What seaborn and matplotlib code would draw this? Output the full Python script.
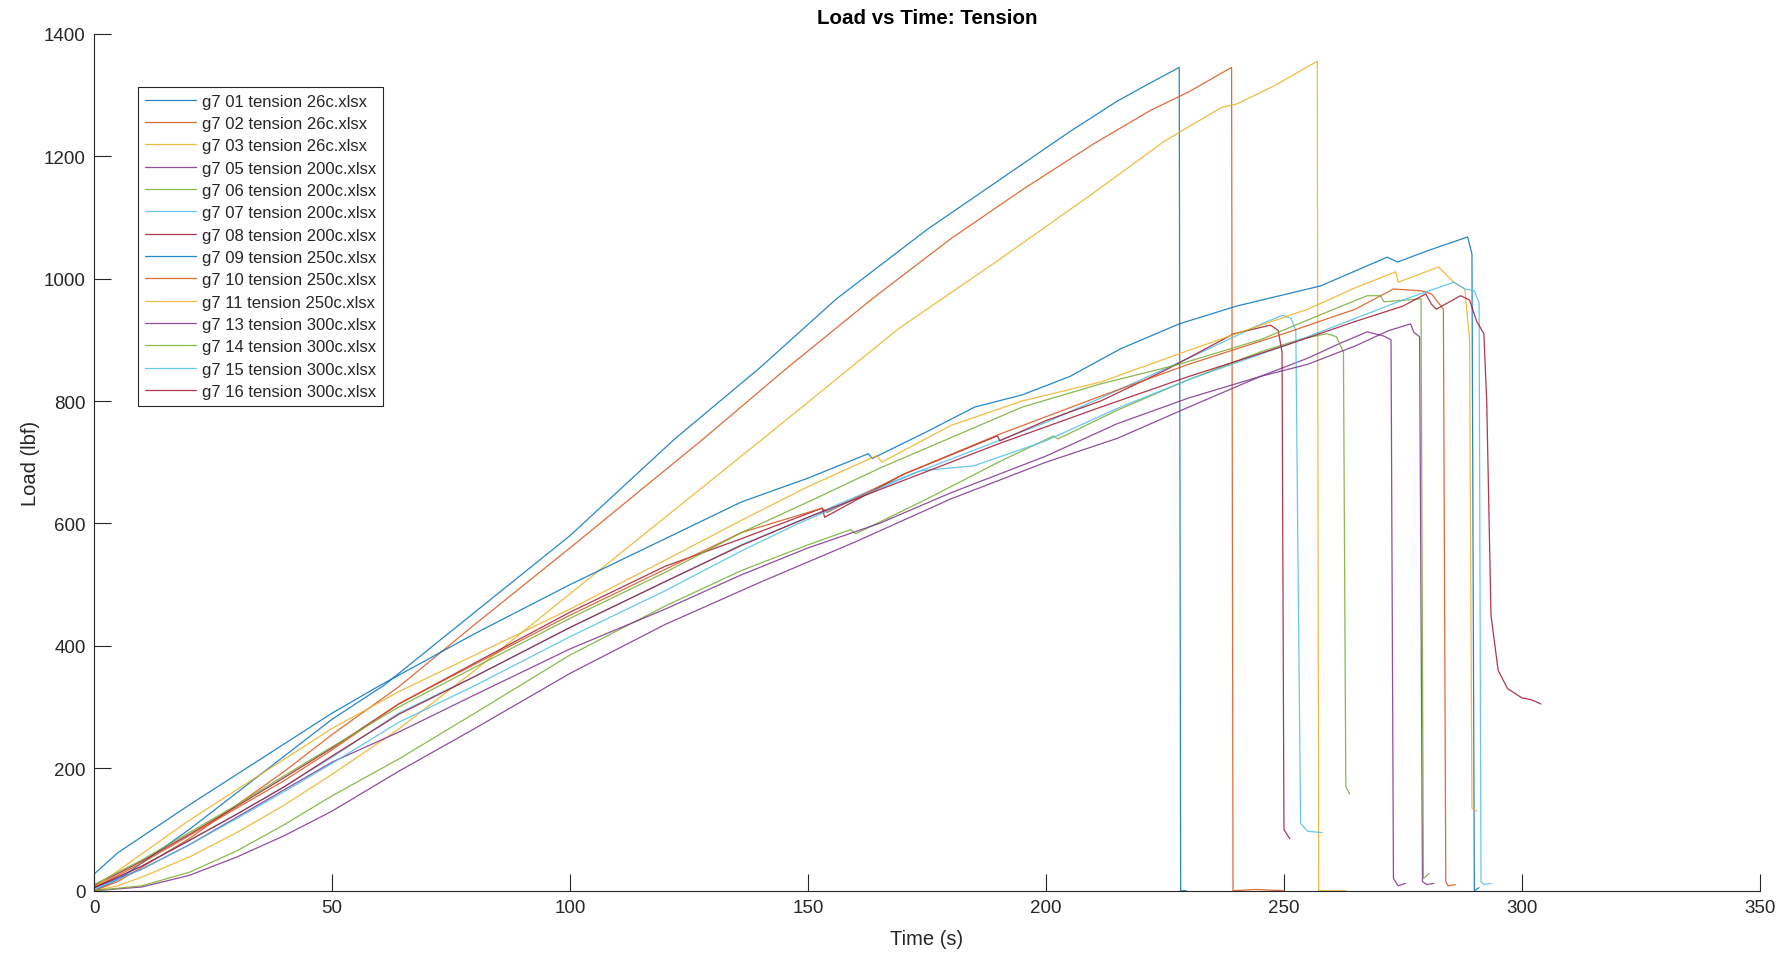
import matplotlib
matplotlib.use("Agg")
import matplotlib.pyplot as plt
import seaborn as sns

# --- data (time in s, load in lbf) ---
labels = ["g7 01 tension 26c.xlsx", "g7 02 tension 26c.xlsx", "g7 03 tension 26c.xlsx",
          "g7 05 tension 200c.xlsx", "g7 06 tension 200c.xlsx", "g7 07 tension 200c.xlsx",
          "g7 08 tension 200c.xlsx", "g7 09 tension 250c.xlsx", "g7 10 tension 250c.xlsx",
          "g7 11 tension 250c.xlsx", "g7 13 tension 300c.xlsx", "g7 14 tension 300c.xlsx",
          "g7 15 tension 300c.xlsx", "g7 16 tension 300c.xlsx"]

t01 = [0, 5, 10, 20, 30, 40, 50, 61, 80, 100, 122, 140, 156, 175, 190, 205, 215, 222, 228, 228.3, 229.5]
L01 = [0, 18, 45, 100, 160, 220, 280, 336, 455, 580, 738, 855, 967, 1080, 1160, 1240, 1290, 1320, 1345, 0, 0]

t02 = [0, 5, 10, 20, 30, 40, 50, 64, 80, 100, 128, 145, 163.5, 180, 195, 210, 222, 230, 239, 239.3, 244, 250]
L02 = [0, 15, 38, 85, 140, 195, 255, 333, 435, 560, 738, 850, 967, 1065, 1145, 1220, 1275, 1305, 1345, 0, 2, 0]

t03 = [0, 5, 10, 20, 30, 40, 50, 64, 80, 100, 120, 140, 169, 190, 210, 225, 237, 240, 248, 257, 257.3, 263]
L03 = [0, 8, 22, 55, 95, 140, 190, 264, 360, 485, 610, 735, 918, 1030, 1140, 1225, 1280, 1285, 1315, 1355, 0, 0]

t05 = [0, 10, 20, 30, 40, 50, 64, 80, 100, 120, 140, 160, 180, 200, 215, 230, 245, 255, 262, 267.5, 271,
       272.5, 273, 274, 275.5]
L05 = [0, 6, 25, 55, 90, 130, 195, 265, 355, 435, 504, 570, 640, 700, 739, 790, 840, 870, 895, 913, 906,
       900, 20, 8, 12]

t06 = [0, 10, 20, 30, 40, 50, 64, 80, 100, 120, 136, 150, 159, 160, 175, 190, 201.6, 202.5, 215, 230, 245,
       253.5, 259, 261, 262.5, 263, 263.8]
L06 = [0, 8, 30, 65, 108, 155, 215, 290, 385, 465, 523, 565, 590, 583, 640, 700, 743, 738, 785, 835, 880,
       901, 910, 905, 880, 170, 158]

t07 = [0, 10, 20, 30, 40, 50, 64, 80, 100, 120, 136, 150, 165, 180, 200, 211.5, 230, 245, 249.7, 251.5,
       252.5, 253, 253.5, 255, 258]
L07 = [3, 40, 82, 125, 170, 218, 290, 350, 430, 505, 565, 610, 660, 705, 765, 805, 870, 925, 940, 935,
       915, 500, 110, 97, 95]

t08 = [0, 10, 20, 30, 40, 50, 64, 80, 100, 120, 136, 153, 153.5, 170, 189.8, 190.3, 200, 211.5, 225, 239.5,
       247.2, 248.8, 249.6, 250.0, 250.8, 251.2]
L08 = [8, 48, 92, 138, 185, 233, 305, 372, 455, 530, 575, 625, 610, 680, 743, 735, 768, 800, 850, 910,
       924, 915, 880, 100, 90, 85]

t09 = [0, 5, 10, 20, 30, 40, 50, 60, 80, 100, 120, 136, 150, 162.7, 163.5, 175, 185, 195, 205, 215.6, 228,
       240, 257.7, 271.7, 273.9, 280, 288.6, 289.5, 290, 291]
L09 = [27, 62, 88, 140, 190, 240, 290, 335, 420, 500, 575, 635, 674, 714, 706, 750, 790, 810, 840, 885, 926,
       955, 988, 1035, 1027, 1045, 1068, 1040, 0, 5]

t10 = [0, 10, 20, 30, 40, 50, 64, 80, 100, 120, 136, 153, 154, 170, 190, 211.5, 230, 250, 265, 273, 278.8,
       281, 283.5, 284, 284.5, 286]
L10 = [5, 45, 90, 135, 180, 230, 305, 370, 450, 525, 585, 625, 618, 680, 745, 808, 860, 910, 950, 983, 980,
       975, 950, 15, 8, 10]

t11 = [0, 10, 20, 30, 40, 50, 64, 80, 100, 120, 136, 150, 164.5, 165.5, 180, 195, 211.5, 228.3, 240, 255,
       265, 273.5, 274, 282.5, 285.7, 288, 289, 289.5, 290.5]
L11 = [5, 60, 115, 165, 215, 265, 325, 385, 460, 540, 605, 660, 711, 700, 760, 800, 831, 878, 910, 950,
       985, 1011, 994, 1019, 994, 983, 900, 135, 130]

t13 = [0, 10, 20, 30, 40, 50, 64, 80, 100, 120, 136, 150, 165, 180, 200, 215, 230, 245, 255, 265, 272,
       276.6, 277.3, 278.5, 279.1, 280, 281.5]
L13 = [5, 35, 75, 120, 165, 210, 259, 320, 395, 460, 516, 560, 600, 650, 710, 763, 805, 840, 860, 890, 915,
       926, 912, 905, 15, 10, 12]

t14 = [0, 10, 20, 30, 40, 50, 64, 80, 100, 120, 136, 150, 165, 180, 195, 211.5, 228, 245, 260.5, 267.5,
       270.3, 271, 278.8, 279.3, 280.5]
L14 = [10, 50, 95, 140, 188, 235, 300, 365, 445, 520, 585, 635, 690, 740, 790, 828, 860, 900, 950, 972,
       972, 962, 967, 20, 28]

t15 = [0, 10, 20, 30, 40, 50, 64, 80, 100, 120, 136, 148, 160, 173.6, 184.8, 200, 215.6, 230, 250, 265, 275,
       285.7, 288, 290, 291, 291.4, 292, 293.5]
L15 = [2, 35, 75, 118, 162, 208, 275, 335, 415, 490, 555, 600, 640, 686, 694, 735, 790, 835, 890, 935, 965,
       994, 983, 980, 960, 15, 10, 12]

t16 = [0, 10, 20, 30, 40, 50, 64, 80, 100, 120, 136, 150, 170, 190, 211.5, 230, 250, 265, 275, 279.8, 281,
       282, 287.1, 289, 290.5, 292, 292.6, 293.5, 295, 297, 300, 302, 304]
L16 = [5, 40, 82, 125, 170, 220, 288, 350, 430, 505, 564, 610, 670, 730, 790, 840, 890, 930, 955, 975, 958,
       950, 972, 965, 930, 910, 800, 450, 360, 330, 315, 312, 305]

times = [t01, t02, t03, t05, t06, t07, t08, t09, t10, t11, t13, t14, t15, t16]
loads = [L01, L02, L03, L05, L06, L07, L08, L09, L10, L11, L13, L14, L15, L16]

# MATLAB default line colours, cycling
matlab = ["#0072BD", "#D95319", "#EDB120", "#7E2F8E", "#77AC30", "#4DBEEE", "#A2142F"]

sns.set_style("ticks")
plt.rcParams['font.family'] = ['Liberation Sans', 'DejaVu Sans']
axcol = "#262626"

fig = plt.figure(figsize=(17.84, 9.54), dpi=100)
ax = fig.add_axes([0.0527, 0.0653, 0.9338, 0.8983])

for i, (tt, ll) in enumerate(zip(times, loads)):
    sns.lineplot(x=tt, y=ll, ax=ax, color=matlab[i % 7], label=labels[i],
                 sort=False, estimator=None, linewidth=0.9, alpha=0.85)

ax.set_xlim(0, 350)
ax.set_ylim(0, 1400)
ax.set_xticks(range(0, 351, 50))
ax.set_yticks(range(0, 1401, 200))
sns.despine(ax=ax)
for s in ["left", "bottom"]:
    ax.spines[s].set_color(axcol)
    ax.spines[s].set_linewidth(0.8)
ax.tick_params(direction="in", length=12, width=0.8, colors=axcol, labelsize=13.5, pad=6)

ax.set_title("Load vs Time: Tension", fontsize=14.8, fontweight="bold", color="black", pad=8)
ax.set_xlabel("Time (s)", fontsize=14.5, color=axcol, labelpad=9)
ax.set_ylabel("Load (lbf)", fontsize=14.5, color=axcol, labelpad=3)

leg = ax.legend(loc="upper left", bbox_to_anchor=(0.0264, 0.938), borderaxespad=0,
                fontsize=12.0, labelspacing=0.44, handlelength=3.1, handletextpad=0.35,
                borderpad=0.4, fancybox=False, framealpha=1, edgecolor=axcol)
leg.get_frame().set_linewidth(0.8)
for h in leg.get_lines():
    h.set_alpha(0.85)

fig.savefig("out.png", dpi=100)
